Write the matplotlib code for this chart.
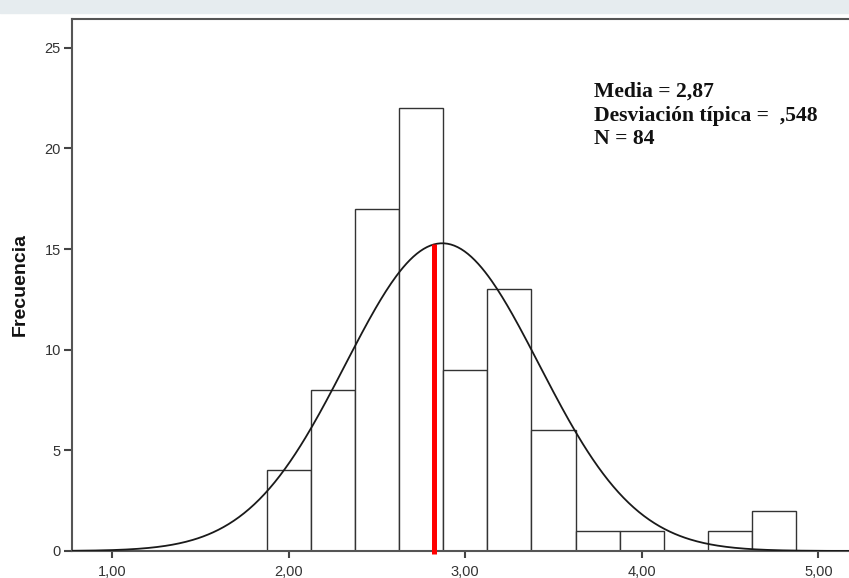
import matplotlib.pyplot as plt
import numpy as np

# histogram data
bin_edges = [1.875, 2.125, 2.375, 2.625, 2.875, 3.125, 3.375,
             3.625, 3.875, 4.125, 4.375, 4.625, 4.875]
counts = [4, 8, 17, 22, 9, 13, 6, 1, 1, 0, 1, 2]
media = 2.87
desv = 0.548
n = 84
red_x = 2.825
xticks = [1, 2, 3, 4, 5]
xtick_labels = ['1,00', '2,00', '3,00', '4,00', '5,00']
yticks = [0, 5, 10, 15, 20, 25]

fig = plt.figure(figsize=(8.49, 5.78), dpi=100)
# faint band at the top of the screenshot
fig.patches.append(plt.Rectangle((0, 1 - 13 / 578), 1, 13 / 578, transform=fig.transFigure,
                                 color='#e6ecef', zorder=0))
ax = fig.add_axes([72 / 849, 27 / 578, 1.0, 532 / 578])

widths = np.diff(bin_edges)
ax.bar(bin_edges[:-1], counts, width=widths, align='edge', facecolor='white',
       edgecolor='#333333', linewidth=1.0, zorder=2)

xs = np.linspace(0.77, 5.6, 500)
bw = widths[0]
ys = n * bw / (desv * np.sqrt(2 * np.pi)) * np.exp(-0.5 * ((xs - media) / desv) ** 2)
ax.plot(xs, ys, color='#1a1a1a', linewidth=1.3, zorder=3)

peak = n * bw / (desv * np.sqrt(2 * np.pi)) * np.exp(-0.5 * ((red_x - media) / desv) ** 2)
ax.plot([red_x, red_x], [-0.15, peak], color='red', linewidth=3.6, zorder=4,
        solid_capstyle='butt', clip_on=False)

ax.set_xlim(0.7735, 0.7735 + 849 / 176.6)
ax.set_ylim(0, 26.43)
ax.set_xticks(xticks)
ax.set_xticklabels(xtick_labels)
ax.set_yticks(yticks)
for lab in ax.get_xticklabels() + ax.get_yticklabels():
    lab.set_family('Liberation Sans')
    lab.set_fontsize(10.5)
    lab.set_color('#333333')
ax.tick_params(axis='x', direction='out', length=5, width=1.5, color='#444444', pad=5)
ax.tick_params(axis='y', direction='out', length=6, width=1.5, color='#444444', pad=2)

for side in ['left', 'top', 'bottom']:
    ax.spines[side].set_color('#555555')
    ax.spines[side].set_linewidth(1.5)
ax.spines['right'].set_visible(False)

ax.set_ylabel('Frecuencia', family='Liberation Sans', fontweight='bold', fontsize=14,
              color='#111111', va='center')
ax.yaxis.set_label_coords(-(72 - 20) / 849, 0.5)

fig.text(594 / 849, 1 - 82 / 578,
         'Media = 2,87\nDesviación típica =  ,548\nN = 84',
         family='Liberation Serif', fontweight='bold', fontsize=15.6,
         va='top', ha='left', linespacing=1.25, color='#111111')

fig.savefig('out.png', dpi=100)
